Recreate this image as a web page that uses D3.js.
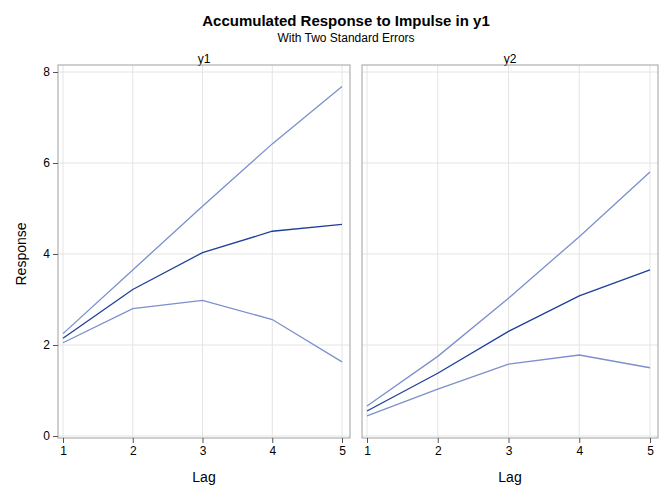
<!DOCTYPE html>
<html><head><meta charset="utf-8">
<script src="https://cdn.jsdelivr.net/npm/d3@7"></script>
<style>body{margin:0;background:#fff}text{font-family:"Liberation Sans",Arial,sans-serif}</style>
</head><body><svg id="c" width="666" height="500"></svg>
<script>
const lags=[1,2,3,4,5];
const panels=["y1","y2"];
const upper={y1:[2.25,3.65,5.05,6.42,7.68],y2:[0.66,1.75,3.03,4.38,5.8]};
const mid={y1:[2.15,3.22,4.03,4.5,4.65],y2:[0.55,1.38,2.3,3.08,3.65]};
const lower={y1:[2.05,2.8,2.98,2.56,1.63],y2:[0.44,1.03,1.58,1.78,1.5]};
const yTicks=[0,2,4,6,8];
const svg=d3.select("#c");
svg.append("text").attr("x",346).attr("y",26).attr("text-anchor","middle").attr("font-size",15).attr("font-weight","bold").text("Accumulated Response to Impulse in y1");
svg.append("text").attr("x",346).attr("y",42).attr("text-anchor","middle").attr("font-size",12).text("With Two Standard Errors");
const pTop=65,pBot=438;
const y=d3.scaleLinear().domain([0,8]).range([436,72]);
const boxes=[[58,350],[362,658]];
panels.forEach((p,i)=>{
  const [x0,x1]=boxes[i];
  const x=d3.scaleLinear().domain([1,5]).range([x0+5,x1-8]);
  const g=svg.append("g");
  yTicks.forEach(t=>g.append("line").attr("x1",x0).attr("x2",x1).attr("y1",y(t)).attr("y2",y(t)).attr("stroke","#e4e4e4"));
  lags.forEach(t=>g.append("line").attr("x1",x(t)).attr("x2",x(t)).attr("y1",pTop).attr("y2",pBot).attr("stroke","#e4e4e4"));
  g.append("text").attr("x",(x0+x1)/2).attr("y",pTop-2).attr("text-anchor","middle").attr("font-size",12).text(p);
  g.append("rect").attr("x",x0).attr("y",pTop).attr("width",x1-x0).attr("height",pBot-pTop).attr("fill","none").attr("stroke","#a0a0a0");
  const line=d3.line().x((d,j)=>x(lags[j])).y(d=>y(d));
  [[upper,"#7d8fcc"],[lower,"#7d8fcc"],[mid,"#1f3f99"]].forEach(([s,c])=>
    g.append("path").attr("d",line(s[p])).attr("fill","none").attr("stroke",c).attr("stroke-width",1.3));
  const ax=g.append("g").attr("transform",`translate(0,${pBot})`).call(d3.axisBottom(x).tickValues(lags).tickFormat(d3.format("d")).tickSize(5));
  ax.select(".domain").remove();
  ax.selectAll("line").attr("stroke","#555");
  ax.selectAll("text").attr("font-size",12).attr("fill","#000");
  svg.append("text").attr("x",(x0+x1)/2).attr("y",482).attr("text-anchor","middle").attr("font-size",14).text("Lag");
});
const ay=svg.append("g").attr("transform",`translate(58,0)`).call(d3.axisLeft(y).tickValues(yTicks).tickSize(5));
ay.select(".domain").remove();
ay.selectAll("line").attr("stroke","#555");
ay.selectAll("text").attr("font-size",12).attr("fill","#000");
svg.append("text").attr("transform","translate(26,254) rotate(-90)").attr("text-anchor","middle").attr("font-size",14).text("Response");
</script></body></html>
